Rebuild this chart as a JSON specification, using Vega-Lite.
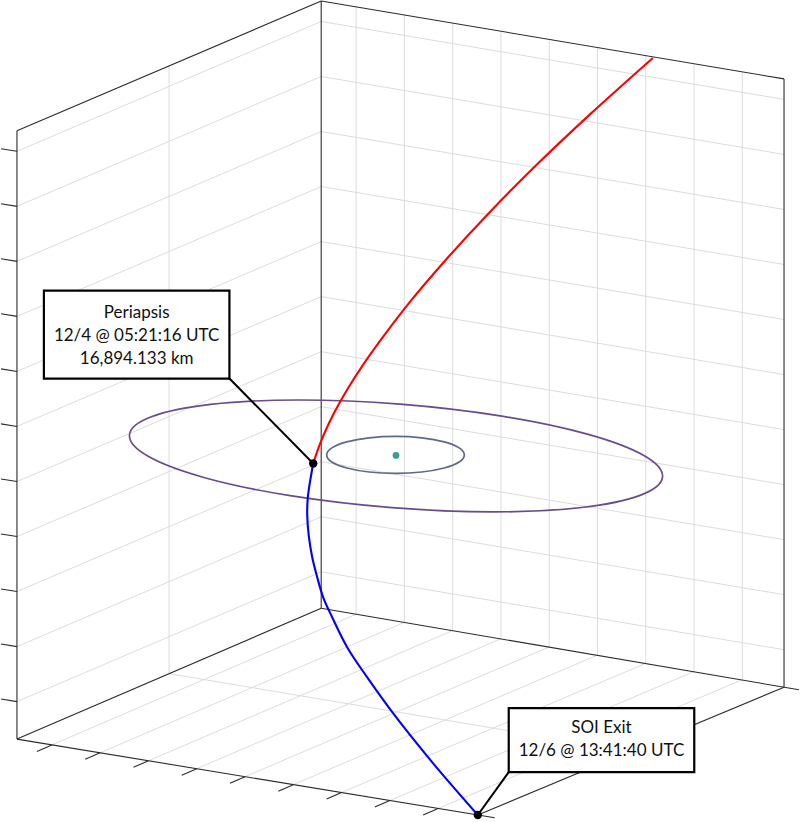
{
  "$schema": "https://vega.github.io/schema/vega-lite/v6.json",
  "width": 800,
  "height": 822,
  "padding": 0,
  "autosize": {"type": "fit", "contains": "padding"},
  "background": "white",
  "config": {"view": {"stroke": null}},
  "datasets": {
    "segs": [
      {"k":"g","x":16,"y":150.5,"x2":321,"y2":20.5},
      {"k":"g","x":16,"y":205.6,"x2":321,"y2":75.6},
      {"k":"g","x":16,"y":260.7,"x2":321,"y2":130.7},
      {"k":"g","x":16,"y":315.8,"x2":321,"y2":185.8},
      {"k":"g","x":16,"y":370.9,"x2":321,"y2":240.9},
      {"k":"g","x":16,"y":426.0,"x2":321,"y2":296.0},
      {"k":"g","x":16,"y":481.1,"x2":321,"y2":351.1},
      {"k":"g","x":16,"y":536.2,"x2":321,"y2":406.2},
      {"k":"g","x":16,"y":591.3,"x2":321,"y2":461.3},
      {"k":"g","x":16,"y":646.4,"x2":321,"y2":516.4},
      {"k":"g","x":16,"y":701.5,"x2":321,"y2":571.5},
      {"k":"g","x":321,"y":20.5,"x2":785,"y2":98.5},
      {"k":"g","x":321,"y":75.6,"x2":785,"y2":153.6},
      {"k":"g","x":321,"y":130.7,"x2":785,"y2":208.7},
      {"k":"g","x":321,"y":185.8,"x2":785,"y2":263.8},
      {"k":"g","x":321,"y":240.9,"x2":785,"y2":318.9},
      {"k":"g","x":321,"y":296.0,"x2":785,"y2":374.0},
      {"k":"g","x":321,"y":351.1,"x2":785,"y2":429.1},
      {"k":"g","x":321,"y":406.2,"x2":785,"y2":484.2},
      {"k":"g","x":321,"y":461.3,"x2":785,"y2":539.3},
      {"k":"g","x":321,"y":516.4,"x2":785,"y2":594.4},
      {"k":"g","x":321,"y":571.5,"x2":785,"y2":649.5},
      {"k":"g","x":168.5,"y":65,"x2":168.5,"y2":673.5},
      {"k":"g","x":168.5,"y":673.5,"x2":630.5,"y2":751},
      {"k":"g","x":356.0,"y":5.9,"x2":356.0,"y2":614.0},
      {"k":"g","x":404.4,"y":14.0,"x2":404.4,"y2":622.1},
      {"k":"g","x":452.8,"y":22.2,"x2":452.8,"y2":630.3},
      {"k":"g","x":501.2,"y":30.3,"x2":501.2,"y2":638.5},
      {"k":"g","x":549.6,"y":38.4,"x2":549.6,"y2":646.7},
      {"k":"g","x":598.0,"y":46.6,"x2":598.0,"y2":654.9},
      {"k":"g","x":646.4,"y":54.7,"x2":646.4,"y2":663.1},
      {"k":"g","x":694.8,"y":62.8,"x2":694.8,"y2":671.3},
      {"k":"g","x":743.2,"y":71.0,"x2":743.2,"y2":679.5},
      {"k":"g","x":356.0,"y":614.0,"x2":51.0,"y2":744.8},
      {"k":"g","x":404.4,"y":622.1,"x2":99.4,"y2":752.7},
      {"k":"g","x":452.8,"y":630.3,"x2":147.8,"y2":760.7},
      {"k":"g","x":501.2,"y":638.5,"x2":196.2,"y2":768.6},
      {"k":"g","x":549.6,"y":646.7,"x2":244.6,"y2":776.6},
      {"k":"g","x":598.0,"y":654.9,"x2":293.0,"y2":784.6},
      {"k":"g","x":646.4,"y":663.1,"x2":341.4,"y2":792.5},
      {"k":"g","x":694.8,"y":671.3,"x2":389.8,"y2":800.5},
      {"k":"g","x":743.2,"y":679.5,"x2":438.2,"y2":808.5},
      {"k":"e","x":321,"y":0,"x2":321,"y2":608},
      {"k":"e","x":16,"y":130,"x2":16,"y2":739},
      {"k":"e","x":785,"y":78,"x2":785,"y2":687},
      {"k":"e","x":16,"y":130,"x2":321,"y2":0},
      {"k":"e","x":321,"y":0,"x2":785,"y2":78},
      {"k":"e","x":16,"y":739,"x2":321,"y2":608},
      {"k":"e","x":321,"y":608,"x2":800,"y2":689.6},
      {"k":"e","x":16,"y":739,"x2":495,"y2":817.8},
      {"k":"e","x":478,"y":815,"x2":785,"y2":687},
      {"k":"e","x":16,"y":150.5,"x2":0,"y2":147.9},
      {"k":"e","x":16,"y":205.6,"x2":0,"y2":203.0},
      {"k":"e","x":16,"y":260.7,"x2":0,"y2":258.1},
      {"k":"e","x":16,"y":315.8,"x2":0,"y2":313.2},
      {"k":"e","x":16,"y":370.9,"x2":0,"y2":368.3},
      {"k":"e","x":16,"y":426.0,"x2":0,"y2":423.4},
      {"k":"e","x":16,"y":481.1,"x2":0,"y2":478.5},
      {"k":"e","x":16,"y":536.2,"x2":0,"y2":533.6},
      {"k":"e","x":16,"y":591.3,"x2":0,"y2":588.7},
      {"k":"e","x":16,"y":646.4,"x2":0,"y2":643.8},
      {"k":"e","x":16,"y":701.5,"x2":0,"y2":698.9},
      {"k":"e","x":51.0,"y":744.8,"x2":36.0,"y2":751.3},
      {"k":"e","x":99.4,"y":752.7,"x2":84.4,"y2":759.2},
      {"k":"e","x":147.8,"y":760.7,"x2":132.8,"y2":767.2},
      {"k":"e","x":196.2,"y":768.6,"x2":181.2,"y2":775.1},
      {"k":"e","x":244.6,"y":776.6,"x2":229.6,"y2":783.1},
      {"k":"e","x":293.0,"y":784.6,"x2":278.0,"y2":791.1},
      {"k":"e","x":341.4,"y":792.5,"x2":326.4,"y2":799.0},
      {"k":"e","x":389.8,"y":800.5,"x2":374.8,"y2":807.0},
      {"k":"e","x":438.2,"y":808.5,"x2":423.2,"y2":815.0},
      {"k":"c","x":229,"y":378,"x2":313,"y2":463},
      {"k":"c","x":509,"y":772,"x2":478,"y2":815}
    ],
    "curves": [
      {"s":"outer","i":0,"x":663.2,"y":476.5},
      {"s":"outer","i":1,"x":641.3,"y":494.7},
      {"s":"outer","i":2,"x":582.0,"y":507.1},
      {"s":"outer","i":3,"x":494.5,"y":511.5},
      {"s":"outer","i":4,"x":391.9,"y":507.3},
      {"s":"outer","i":5,"x":289.9,"y":495.3},
      {"s":"outer","i":6,"x":204.2,"y":477.3},
      {"s":"outer","i":7,"x":147.5,"y":455.9},
      {"s":"outer","i":8,"x":128.8,"y":434.5},
      {"s":"outer","i":9,"x":150.7,"y":416.3},
      {"s":"outer","i":10,"x":210.0,"y":403.9},
      {"s":"outer","i":11,"x":297.5,"y":399.5},
      {"s":"outer","i":12,"x":400.1,"y":403.7},
      {"s":"outer","i":13,"x":502.1,"y":415.7},
      {"s":"outer","i":14,"x":587.8,"y":433.7},
      {"s":"outer","i":15,"x":644.5,"y":455.1},
      {"s":"inner","i":0,"x":464.5,"y":454.5},
      {"s":"inner","i":1,"x":459.3,"y":461.6},
      {"s":"inner","i":2,"x":444.3,"y":467.6},
      {"s":"inner","i":3,"x":421.9,"y":471.6},
      {"s":"inner","i":4,"x":395.5,"y":473.0},
      {"s":"inner","i":5,"x":369.1,"y":471.6},
      {"s":"inner","i":6,"x":346.7,"y":467.6},
      {"s":"inner","i":7,"x":331.7,"y":461.6},
      {"s":"inner","i":8,"x":326.5,"y":454.5},
      {"s":"inner","i":9,"x":331.7,"y":447.4},
      {"s":"inner","i":10,"x":346.7,"y":441.4},
      {"s":"inner","i":11,"x":369.1,"y":437.4},
      {"s":"inner","i":12,"x":395.5,"y":436.0},
      {"s":"inner","i":13,"x":421.9,"y":437.4},
      {"s":"inner","i":14,"x":444.3,"y":441.4},
      {"s":"inner","i":15,"x":459.3,"y":447.4},
      {"s":"red","i":0,"x":313.0,"y":463},
      {"s":"red","i":1,"x":318.1,"y":448},
      {"s":"red","i":2,"x":324.1,"y":433},
      {"s":"red","i":3,"x":333.6,"y":413},
      {"s":"red","i":4,"x":347.7,"y":388},
      {"s":"red","i":5,"x":363.8,"y":363},
      {"s":"red","i":6,"x":385.4,"y":333},
      {"s":"red","i":7,"x":411.0,"y":300},
      {"s":"red","i":8,"x":442.5,"y":263},
      {"s":"red","i":9,"x":488.5,"y":213},
      {"s":"red","i":10,"x":538.0,"y":163},
      {"s":"red","i":11,"x":591.0,"y":113},
      {"s":"red","i":12,"x":653.5,"y":57},
      {"s":"blue","i":0,"x":313,"y":463},
      {"s":"blue","i":1,"x":310,"y":480},
      {"s":"blue","i":2,"x":307.5,"y":498},
      {"s":"blue","i":3,"x":307,"y":515},
      {"s":"blue","i":4,"x":308.5,"y":535},
      {"s":"blue","i":5,"x":312,"y":557},
      {"s":"blue","i":6,"x":317,"y":577},
      {"s":"blue","i":7,"x":323,"y":597},
      {"s":"blue","i":8,"x":332,"y":617},
      {"s":"blue","i":9,"x":347,"y":647},
      {"s":"blue","i":10,"x":367,"y":677},
      {"s":"blue","i":11,"x":393,"y":713},
      {"s":"blue","i":12,"x":433,"y":763},
      {"s":"blue","i":13,"x":478,"y":815}
    ],
    "dots": [
      {"k":"body","x":396,"y":455},
      {"k":"mark","x":313,"y":463},
      {"k":"mark","x":478,"y":815}
    ],
    "boxes": [
      {"x":43,"y":290,"x2":229,"y2":378},
      {"x":509,"y":708,"x2":695,"y2":772}
    ],
    "labels": [
      {"x":136,"y":317,"t":"Periapsis"},
      {"x":136,"y":340,"t":"12/4 @ 05:21:16 UTC"},
      {"x":136,"y":363,"t":"16,894.133 km"},
      {"x":602,"y":733,"t":"SOI Exit"},
      {"x":602,"y":756,"t":"12/6 @ 13:41:40 UTC"}
    ]
  },
  "encoding": {
    "x": {"field": "x", "type": "quantitative", "scale": {"domain": [0, 800], "nice": false, "zero": false}, "axis": null},
    "y": {"field": "y", "type": "quantitative", "scale": {"domain": [0, 822], "nice": false, "zero": false, "reverse": true}, "axis": null}
  },
  "layer": [
    {
      "data": {"name": "segs"},
      "transform": [{"filter": "datum.k === 'g'"}],
      "mark": {"type": "rule", "stroke": "#dcdcdc", "strokeWidth": 1},
      "encoding": {"x2": {"field": "x2"}, "y2": {"field": "y2"}}
    },
    {
      "data": {"name": "segs"},
      "transform": [{"filter": "datum.k === 'e'"}],
      "mark": {"type": "rule", "stroke": "#2b2b2b", "strokeWidth": 1.1},
      "encoding": {"x2": {"field": "x2"}, "y2": {"field": "y2"}}
    },
    {
      "data": {"name": "curves"},
      "transform": [{"filter": "datum.s === 'outer'"}],
      "mark": {"type": "line", "interpolate": "cardinal-closed", "strokeWidth": 1.7, "stroke": "#6a4c8e"},
      "encoding": {"order": {"field": "i", "type": "quantitative"}}
    },
    {
      "data": {"name": "curves"},
      "transform": [{"filter": "datum.s === 'inner'"}],
      "mark": {"type": "line", "interpolate": "cardinal-closed", "strokeWidth": 1.7, "stroke": "#5e6a8a"},
      "encoding": {"order": {"field": "i", "type": "quantitative"}}
    },
    {
      "data": {"name": "curves"},
      "transform": [{"filter": "datum.s === 'red'"}],
      "mark": {"type": "line", "interpolate": "catmull-rom", "strokeWidth": 2.1, "stroke": "#ff0000"},
      "encoding": {"order": {"field": "i", "type": "quantitative"}}
    },
    {
      "data": {"name": "curves"},
      "transform": [{"filter": "datum.s === 'blue'"}],
      "mark": {"type": "line", "interpolate": "catmull-rom", "strokeWidth": 2.1, "stroke": "#0000ff"},
      "encoding": {"order": {"field": "i", "type": "quantitative"}}
    },
    {
      "data": {"name": "segs"},
      "transform": [{"filter": "datum.k === 'c'"}],
      "mark": {"type": "rule", "stroke": "#000000", "strokeWidth": 2},
      "encoding": {"x2": {"field": "x2"}, "y2": {"field": "y2"}}
    },
    {
      "data": {"name": "dots"},
      "transform": [{"filter": "datum.k === 'body'"}],
      "mark": {"type": "circle", "opacity": 1, "fill": "#3b9e8c", "size": 45},
      "encoding": {}
    },
    {
      "data": {"name": "dots"},
      "transform": [{"filter": "datum.k === 'mark'"}],
      "mark": {"type": "circle", "opacity": 1, "fill": "#000000", "size": 70},
      "encoding": {}
    },
    {
      "data": {"name": "boxes"},
      "mark": {"type": "rect", "fill": "white", "stroke": "black", "strokeWidth": 2.2},
      "encoding": {"x2": {"field": "x2"}, "y2": {"field": "y2"}}
    },
    {
      "data": {"name": "labels"},
      "mark": {"type": "text", "font": "Lato", "fontSize": 17, "align": "center", "baseline": "alphabetic", "color": "#111111"},
      "encoding": {"text": {"field": "t"}}
    }
  ]
}
